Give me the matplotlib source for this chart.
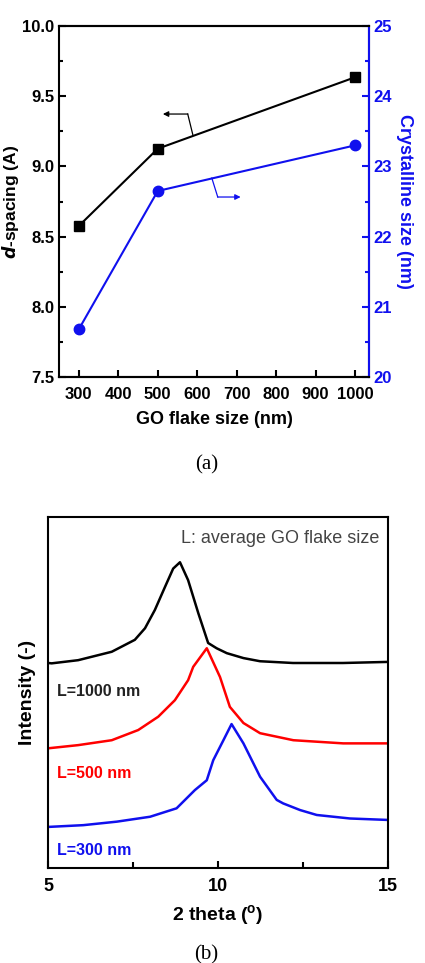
import matplotlib
matplotlib.use('Agg')
import matplotlib.pyplot as plt
from matplotlib.ticker import MultipleLocator, FormatStrFormatter

plt.rcParams['font.family'] = ['Liberation Sans', 'DejaVu Sans']
plt.rcParams['font.weight'] = 'bold'
plt.rcParams['mathtext.default'] = 'regular'

# (a) d-spacing and crystalline size vs GO flake size
flake_size = [300, 500, 1000]
d_spacing = [8.576, 9.126, 9.635]
cryst_size = [20.68, 22.65, 23.30]

# arrows pointing to the axes (polyline vertices, last point is the head)
arrow_left_x = [589, 576, 513]
arrow_left_y = [9.224, 9.373, 9.373]
arrow_right_x = [637, 652, 710]
arrow_right_y = [8.917, 8.782, 8.782]

# (b) XRD patterns (offset in intensity)
theta_1000 = [5.00, 5.10, 5.88, 6.87, 7.55, 7.85, 8.14, 8.44, 8.68, 8.88, 9.12, 9.42,
              9.71, 9.96, 10.26, 10.75, 11.24, 12.21, 13.68, 14.97]
int_1000 = [58.5, 58.4, 59.3, 61.7, 65.1, 68.4, 73.6, 80.2, 85.4, 87.2, 82.1, 72.7,
            64.2, 62.7, 61.3, 59.9, 59.0, 58.5, 58.5, 58.8]
theta_500 = [5.00, 5.88, 6.87, 7.65, 8.24, 8.73, 9.12, 9.27, 9.67, 10.06, 10.35, 10.75,
             11.24, 12.22, 13.69, 14.97]
int_500 = [34.2, 35.1, 36.5, 39.4, 43.2, 47.9, 53.6, 57.4, 62.7, 54.5, 46.0, 41.4,
           38.5, 36.5, 35.6, 35.6]
theta_300 = [5.00, 6.03, 7.02, 8.00, 8.78, 9.32, 9.67, 9.86, 10.16, 10.40, 10.75, 11.24,
             11.73, 11.92, 12.42, 12.91, 13.89, 14.97]
int_300 = [11.8, 12.3, 13.3, 14.7, 17.1, 22.3, 25.1, 30.8, 36.5, 41.1, 35.6, 26.1,
           19.5, 18.5, 16.6, 15.2, 14.2, 13.8]

blue = '#1010ee'
red = '#ff0000'

fig = plt.figure(figsize=(4.25, 9.63), dpi=100)

# ---- panel (a)
ax1 = fig.add_axes([0.139, 0.6085, 0.729, 0.3645])
ax2 = ax1.twinx()
ax1.plot(flake_size, d_spacing, color='black', marker='s', markersize=6.5, lw=1.5)
ax2.plot(flake_size, cryst_size, color=blue, marker='o', markersize=7.5, lw=1.5)

ax1.set_xlim(250, 1035)
ax1.set_ylim(7.5, 10.0)
ax2.set_ylim(20, 25)
ax1.set_xticks(range(300, 1001, 100))
ax1.yaxis.set_major_locator(MultipleLocator(0.5))
ax1.yaxis.set_minor_locator(MultipleLocator(0.25))
ax2.yaxis.set_major_locator(MultipleLocator(1))
ax2.yaxis.set_minor_locator(MultipleLocator(0.5))
ax1.yaxis.set_major_formatter(FormatStrFormatter('%.1f'))

ax1.tick_params(axis='both', direction='in', labelsize=12, length=5, width=1.5)
ax1.tick_params(axis='x', pad=7)
ax1.tick_params(axis='y', which='minor', direction='in', length=3, width=1.5)
ax2.tick_params(axis='y', which='both', direction='in', colors=blue, labelsize=12, width=1.5)
ax2.tick_params(axis='y', which='major', length=5)
ax2.tick_params(axis='y', which='minor', length=3)
for sp in ax1.spines.values():
    sp.set_linewidth(1.5)
for sp in ax2.spines.values():
    sp.set_linewidth(1.5)
ax2.spines['right'].set_color(blue)
ax2.spines['left'].set_visible(False)

ax1.set_xlabel('GO flake size (nm)', fontsize=13, fontweight='bold', labelpad=7)
ax1.set_ylabel(r'$\mathit{d}$-spacing (A)', fontsize=12.5, fontweight='bold', labelpad=1)
ax2.set_ylabel('Crystalline size (nm)', fontsize=13, fontweight='bold', color=blue,
               rotation=270, labelpad=15)

ax1.plot(arrow_left_x[:-1], arrow_left_y[:-1], color='black', lw=0.9)
ax1.annotate('', xy=(arrow_left_x[-1], arrow_left_y[-1]),
             xytext=(arrow_left_x[-2], arrow_left_y[-2]),
             arrowprops=dict(arrowstyle='-|>', color='black', lw=0.9,
                             mutation_scale=8, shrinkA=0, shrinkB=0))
ax1.plot(arrow_right_x[:-1], arrow_right_y[:-1], color=blue, lw=0.9)
ax1.annotate('', xy=(arrow_right_x[-1], arrow_right_y[-1]),
             xytext=(arrow_right_x[-2], arrow_right_y[-2]),
             arrowprops=dict(arrowstyle='-|>', color=blue, lw=0.9,
                             mutation_scale=8, shrinkA=0, shrinkB=0))

fig.text(0.486, 0.517, '(a)', ha='center', va='center', fontsize=15,
         family='Liberation Serif', fontweight='normal')

# ---- panel (b)
ax3 = fig.add_axes([0.1136, 0.0983, 0.7986, 0.3645])
ax3.plot(theta_1000, int_1000, color='black', lw=1.8)
ax3.plot(theta_500, int_500, color=red, lw=1.8)
ax3.plot(theta_300, int_300, color=blue, lw=1.8)
ax3.set_xlim(5, 15)
ax3.set_ylim(0, 100)
ax3.set_xticks([5, 10, 15])
ax3.xaxis.set_minor_locator(MultipleLocator(2.5))
ax3.set_yticks([])
ax3.tick_params(axis='x', which='major', direction='in', length=5, width=1.5,
                labelsize=13, pad=7)
ax3.tick_params(axis='x', which='minor', direction='in', length=4, width=1.5)
for sp in ax3.spines.values():
    sp.set_linewidth(1.5)
ax3.set_xlabel(r'2 theta ($^{o}$)', fontsize=14, fontweight='bold', labelpad=6)
ax3.set_ylabel('Intensity (-)', fontsize=14, fontweight='bold', labelpad=9)

ax3.text(0.975, 0.965, 'L: average GO flake size', transform=ax3.transAxes,
         ha='right', va='top', fontsize=13, fontweight='normal', color='#444444')
ax3.text(0.025, 0.505, 'L=1000 nm', transform=ax3.transAxes, ha='left', va='center',
         fontsize=11.5, fontweight='bold', color='#222222')
ax3.text(0.025, 0.27, 'L=500 nm', transform=ax3.transAxes, ha='left', va='center',
         fontsize=11.5, fontweight='bold', color=red)
ax3.text(0.025, 0.05, 'L=300 nm', transform=ax3.transAxes, ha='left', va='center',
         fontsize=11.5, fontweight='bold', color=blue)

fig.text(0.486, 0.008, '(b)', ha='center', va='center', fontsize=15,
         family='Liberation Serif', fontweight='normal')

fig.savefig('out.png', dpi=100)
